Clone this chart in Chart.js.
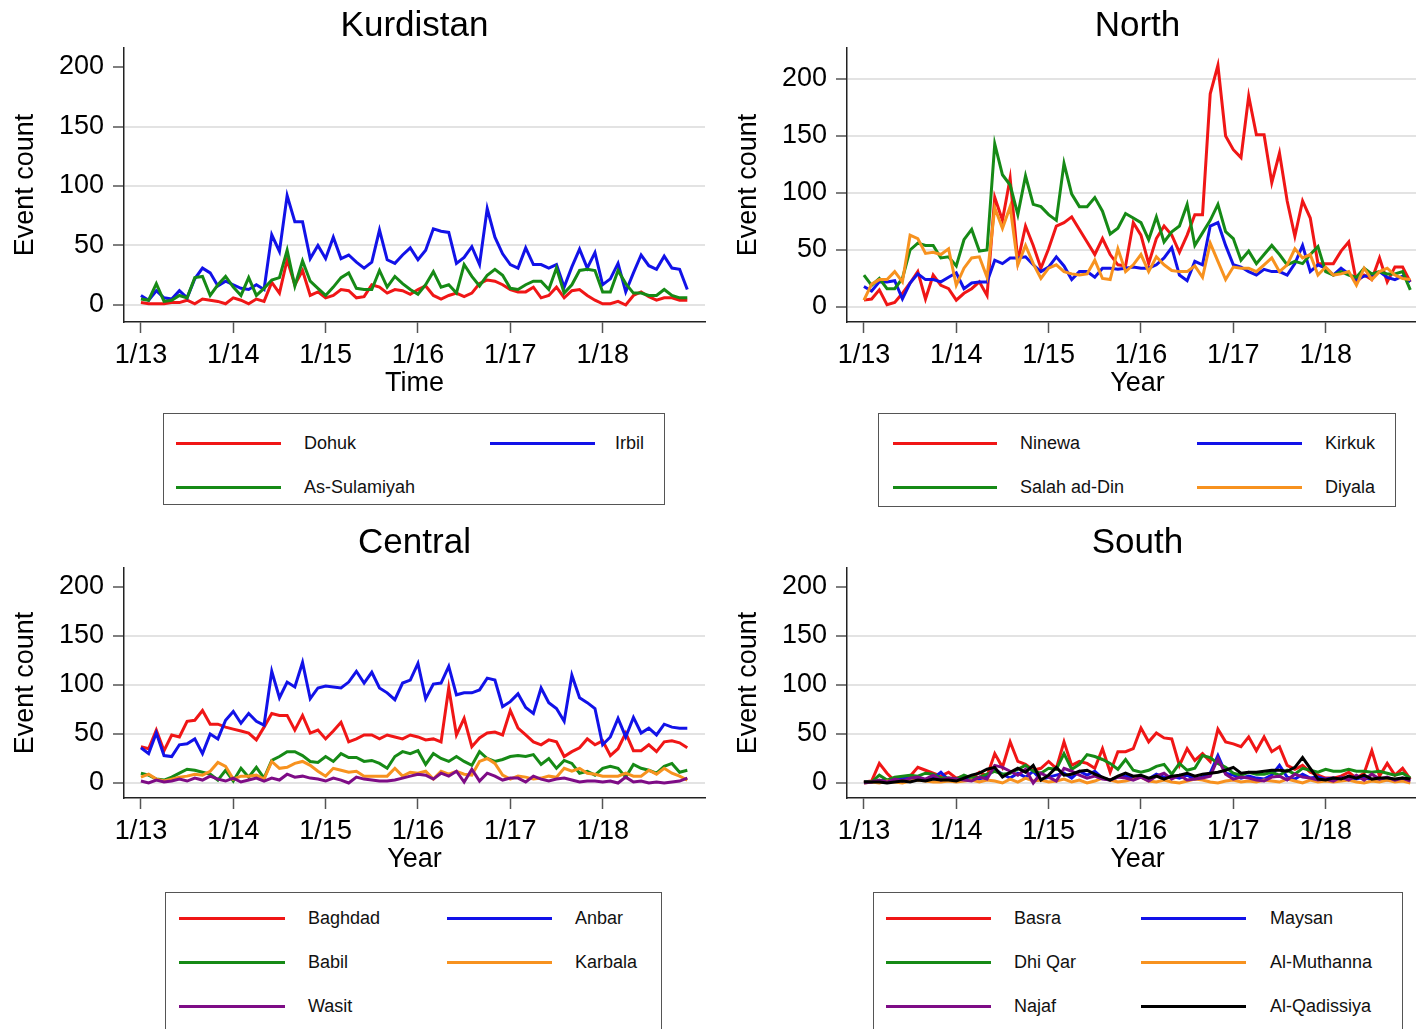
<!DOCTYPE html>
<html lang="en">
<head>
<meta charset="UTF-8">
<title>Event counts by region</title>
<script src="https://cdn.jsdelivr.net/npm/chart.js@4"></script>
<style>
  body { margin: 0; background: #fff; width: 1416px; height: 1029px; overflow: hidden; position: relative;
         font-family: 'Liberation Sans', Arial, Helvetica, sans-serif; }
  canvas { position: absolute; }
  .legend { position: absolute; border: 1.5px solid #555; box-sizing: border-box; }
  .key { position: absolute; height: 3px; }
  .lab { position: absolute; font-size: 18px; line-height: 20px; color: #111; white-space: nowrap; }
</style>
</head>
<body>
<script>
  // months run Jan 2013 (index 0) to Dec 2018 (index 71)
  const tickMonths = [0, 12, 24, 36, 48, 60];
  const tickLabels = ['1/13', '1/14', '1/15', '1/16', '1/17', '1/18'];
  const yTicks = [0, 50, 100, 150, 200];

  // Kurdistan
  const kurNames = ['Dohuk', 'Irbil', 'As-Sulamiyah'];
  const dohuk = [2,1,1,1,2,2,4,1,5,4,3,1,6,4,1,5,3,19,10,38,17,29,8,11,6,8,13,12,6,7,17,15,10,13,12,9,13,16,8,5,8,10,7,10,18,21,20,17,13,11,11,15,6,8,15,6,12,13,8,4,1,1,3,0,8,11,7,4,6,6,4,4];
  const irbil = [8,4,12,6,5,12,6,22,31,27,16,20,17,14,13,17,13,59,45,92,70,70,39,50,39,57,39,42,36,31,36,63,38,35,42,48,38,46,64,62,61,35,40,49,34,81,57,43,34,31,48,34,34,31,34,15,32,47,31,44,17,22,35,11,27,42,33,30,41,31,30,13];
  const sulamiyah = [5,4,18,3,4,8,6,23,24,8,17,24,15,8,23,8,14,21,23,46,16,37,20,14,8,15,23,27,14,13,13,29,15,24,18,13,9,17,28,15,17,10,34,24,16,25,30,25,14,13,17,20,20,13,31,10,17,29,30,29,11,11,29,18,10,10,8,8,13,8,6,6];

  // North
  const norNames = ['Ninewa', 'Kirkuk', 'Salah ad-Din', 'Diyala'];
  const ninewa = [6,7,15,2,4,12,21,31,7,28,19,16,6,12,16,22,10,96,76,113,40,71,54,34,51,71,74,79,68,57,46,60,46,37,36,74,63,38,60,71,63,48,63,81,81,187,212,150,138,131,185,151,151,109,135,93,62,93,78,38,38,38,49,57,22,28,24,43,22,35,35,22];
  const kirkuk = [18,14,22,22,23,7,21,29,24,24,22,26,30,16,21,22,22,41,38,43,43,44,37,31,35,44,36,24,31,31,26,34,34,33,34,35,34,34,37,43,52,28,23,40,37,71,74,54,37,35,31,28,33,31,31,28,38,54,31,37,34,28,34,29,24,27,28,31,26,24,27,22];
  const salah = [28,19,25,16,16,25,50,56,54,54,43,44,36,59,68,49,50,143,116,107,81,115,90,88,81,76,126,99,88,88,96,84,64,69,82,78,74,59,79,57,66,71,90,54,65,76,90,66,60,41,49,38,46,54,46,37,40,38,46,53,31,28,31,28,26,34,29,31,29,29,31,15];
  const diyala = [6,20,24,24,31,22,63,60,47,48,46,51,19,34,43,44,26,87,69,88,37,54,38,25,34,37,31,29,28,29,41,25,24,51,31,37,46,31,44,37,32,31,31,36,26,56,40,24,35,34,34,31,37,43,31,37,51,43,46,28,35,28,29,31,19,34,24,31,34,28,25,24];

  // Central
  const cenNames = ['Baghdad', 'Anbar', 'Babil', 'Karbala', 'Wasit'];
  const baghdad = [37,35,54,33,49,47,63,64,74,60,60,57,55,53,51,44,57,71,69,69,54,69,51,54,45,53,62,42,45,49,49,45,49,47,45,49,47,44,45,42,97,49,66,37,46,51,52,49,74,56,49,42,39,44,42,27,32,36,45,39,43,28,35,51,33,33,39,32,42,43,41,36];
  const anbar = [36,30,51,28,27,39,40,45,30,50,45,64,73,61,71,63,59,114,87,103,98,123,86,97,99,98,97,103,114,102,113,97,92,85,102,105,122,86,101,102,119,90,92,92,95,107,105,78,83,91,77,71,97,82,76,63,110,87,82,76,39,47,66,47,67,51,56,49,60,57,56,56];
  const babil = [10,8,4,3,6,10,14,13,11,9,3,13,2,15,6,16,5,23,27,32,32,28,22,21,27,22,30,26,26,22,23,20,15,27,32,30,33,19,30,25,22,27,22,18,32,25,22,24,27,28,27,29,19,25,15,23,20,10,12,8,15,17,15,6,19,15,13,10,17,20,11,13];
  const karbala = [6,9,4,2,4,6,7,9,8,12,21,17,4,7,7,8,4,22,15,16,20,22,18,12,7,15,13,11,12,7,7,7,7,15,7,11,10,12,4,12,9,12,9,8,22,25,20,8,4,7,6,4,5,7,6,15,12,15,10,9,7,7,7,10,7,7,13,9,15,10,7,3];
  const wasit = [2,0,3,1,2,4,2,5,3,7,4,2,5,1,3,5,2,5,3,9,6,7,5,4,2,5,3,0,6,4,3,2,2,3,5,7,9,8,4,10,7,12,1,14,2,10,7,3,5,5,1,7,4,2,4,5,3,1,2,2,1,2,0,6,1,2,0,1,0,1,2,5];

  // South
  const souNames = ['Basra', 'Maysan', 'Dhi Qar', 'Al-Muthanna', 'Najaf', 'Al-Qadissiya'];
  const basra = [1,2,20,10,2,4,7,16,13,10,7,11,5,7,5,11,7,30,16,42,22,19,13,15,22,15,42,18,22,20,15,35,11,32,32,35,56,42,51,46,45,18,35,23,30,22,55,42,40,37,47,33,47,32,37,18,14,18,11,8,5,5,7,11,5,10,33,7,20,8,15,4];
  const maysan = [1,1,2,3,2,6,4,6,3,5,11,3,4,5,3,4,7,14,9,5,10,6,12,3,6,8,10,5,12,8,12,5,3,6,7,5,6,4,9,6,7,5,8,4,6,10,28,10,8,5,7,5,4,8,18,6,4,9,5,6,4,5,3,5,4,6,3,4,3,3,4,3];
  const dhiqar = [1,1,8,3,6,7,8,7,10,9,5,5,4,8,5,6,9,12,9,10,14,18,12,10,15,14,30,14,19,29,27,24,20,14,24,13,11,13,17,19,9,20,13,15,28,26,20,16,10,8,11,9,9,11,8,13,9,15,13,11,14,12,12,14,12,12,11,12,10,8,10,5];
  const muthanna = [0,1,0,2,1,0,2,3,2,1,1,2,1,2,3,1,3,2,0,4,1,5,2,3,1,2,4,1,3,0,2,5,3,1,2,4,6,2,1,3,1,0,2,4,3,1,0,2,3,1,2,1,3,2,1,4,2,0,3,1,2,1,2,3,1,0,2,1,3,1,2,0];
  const najaf = [0,1,3,1,4,2,5,6,4,8,3,5,4,3,2,6,4,18,16,12,8,14,0,10,6,2,15,12,8,5,7,4,3,6,5,3,6,2,7,10,4,8,3,4,5,7,25,9,4,6,5,3,2,6,7,3,9,6,5,3,4,2,6,3,8,3,9,4,6,3,5,2];
  const qadissiya = [1,1,1,0,1,2,1,3,2,4,3,3,2,5,8,10,14,16,6,11,15,11,18,3,8,16,8,9,12,13,9,6,3,7,10,7,8,5,7,4,7,8,10,7,9,10,11,13,16,10,11,11,12,13,13,12,16,26,15,4,3,5,4,7,5,8,4,5,5,4,5,4];

  const RED = '#f01616', BLUE = '#1212e8', GREEN = '#168a16', ORANGE = '#f7921f', PURPLE = '#7e0c86', BLACK = '#000000';
  const FONT = "'Liberation Sans', Arial, Helvetica, sans-serif";

  const panels = [
    { title: 'Kurdistan', xTitle: 'Time', names: kurNames, series: [dohuk, irbil, sulamiyah], colors: [RED, BLUE, GREEN],
      left: 0, top: 0, height: 400, yMin: -14.3, yMax: 216, topGrid: false, titlePad: { top: 5, bottom: 1 },
      legend: { left: 163, top: 413, width: 502, height: 92, rows: [443, 487], cols: [[176, 281, 304], [490, 595, 615]] } },
    { title: 'North', xTitle: 'Year', names: norNames, series: [ninewa, kirkuk, salah, diyala], colors: [RED, BLUE, GREEN, ORANGE],
      left: 723, top: 0, height: 400, yMin: -13.2, yMax: 227.2, topGrid: true, titlePad: { top: 5, bottom: 1 },
      legend: { left: 878, top: 413, width: 518, height: 94, rows: [443, 487], cols: [[893, 997, 1020], [1197, 1302, 1325]] } },
    { title: 'Central', xTitle: 'Year', names: cenNames, series: [baghdad, anbar, babil, karbala, wasit], colors: [RED, BLUE, GREEN, ORANGE, PURPLE],
      left: 0, top: 520, height: 356, yMin: -15.3, yMax: 219.4, topGrid: false, titlePad: { top: 2, bottom: 4 },
      legend: { left: 165, top: 892, width: 497, height: 160, rows: [918, 962, 1006], cols: [[179, 285, 308], [447, 552, 575]] } },
    { title: 'South', xTitle: 'Year', names: souNames, series: [basra, maysan, dhiqar, muthanna, najaf, qadissiya], colors: [RED, BLUE, GREEN, ORANGE, PURPLE, BLACK],
      left: 723, top: 520, height: 356, yMin: -15.3, yMax: 219.4, topGrid: false, titlePad: { top: 2, bottom: 4 },
      legend: { left: 873, top: 892, width: 530, height: 160, rows: [918, 962, 1006], cols: [[886, 991, 1014], [1141, 1246, 1270]] } }
  ];

  function makeChart(p) {
    const canvas = document.createElement('canvas');
    canvas.width = 740;
    canvas.height = p.height;
    canvas.style.left = p.left + 'px';
    canvas.style.top = p.top + 'px';
    document.body.appendChild(canvas);
    const n = p.series.length;

    new Chart(canvas, {
      type: 'line',
      data: {
        datasets: p.series.map((vals, k) => ({
          label: p.names[k],
          data: vals.map((v, i) => ({ x: i, y: v })),
          borderColor: p.colors[k],
          borderWidth: 3,
          pointRadius: 0,
          tension: 0,
          fill: false,
          order: n - k   // later series on top, as in the original
        }))
      },
      options: {
        responsive: false,
        animation: false,
        devicePixelRatio: 1,
        layout: { padding: { left: 0, right: 35, top: 0, bottom: 0 } },
        plugins: {
          legend: { display: false },
          tooltip: { enabled: false },
          title: {
            display: true, text: p.title, fullSize: false, color: '#000',
            font: { family: FONT, size: 35, weight: 'normal', lineHeight: 1.2 },
            padding: p.titlePad
          }
        },
        scales: {
          x: {
            type: 'linear', min: -2.2, max: 73.3,
            afterBuildTicks: s => { s.ticks = tickMonths.map(v => ({ value: v })); },
            afterFit: s => { s.height = 78; },
            ticks: { callback: (v, i) => tickLabels[i], color: '#000', font: { family: FONT, size: 27 },
                     padding: 6, maxRotation: 0, autoSkip: false },
            grid: { drawOnChartArea: false, tickLength: 11, tickColor: '#555', tickWidth: 1.5 },
            border: { color: '#222', width: 1.5 },
            title: { display: true, text: p.xTitle, color: '#000', font: { family: FONT, size: 27 }, padding: { top: 0, bottom: 0 } }
          },
          y: {
            min: p.yMin, max: p.yMax,
            afterBuildTicks: s => { s.ticks = yTicks.map(v => ({ value: v })); },
            afterFit: s => { s.width = 124; },
            ticks: { color: '#000', font: { family: FONT, size: 27 }, padding: 9 },
            grid: {
              color: c => (c.tick && c.tick.value === 200 && !p.topGrid) ? 'rgba(0,0,0,0)' : '#e3e3e3',
              lineWidth: 2, tickLength: 11, tickColor: '#555', tickWidth: 1.5
            },
            border: { color: '#222', width: 1.5 },
            title: { display: true, text: 'Event count', color: '#000', font: { family: FONT, size: 27 }, padding: { top: 9, bottom: 0 } }
          }
        }
      }
    });
  }

  function makeLegend(p) {
    const L = p.legend;
    const box = document.createElement('div');
    box.className = 'legend';
    box.style.cssText = `left:${L.left}px;top:${L.top}px;width:${L.width}px;height:${L.height}px`;
    document.body.appendChild(box);
    p.names.forEach((name, k) => {
      const y = L.rows[Math.floor(k / 2)];
      const c = L.cols[k % 2];
      const key = document.createElement('div');
      key.className = 'key';
      key.style.cssText = `left:${c[0]}px;top:${y - 1.5}px;width:${c[1] - c[0]}px;background:${p.colors[k]}`;
      document.body.appendChild(key);
      const lab = document.createElement('div');
      lab.className = 'lab';
      lab.style.cssText = `left:${c[2]}px;top:${y - 10}px`;
      lab.textContent = name;
      document.body.appendChild(lab);
    });
  }

  panels.forEach(p => { makeChart(p); makeLegend(p); });
</script>
</body>
</html>
